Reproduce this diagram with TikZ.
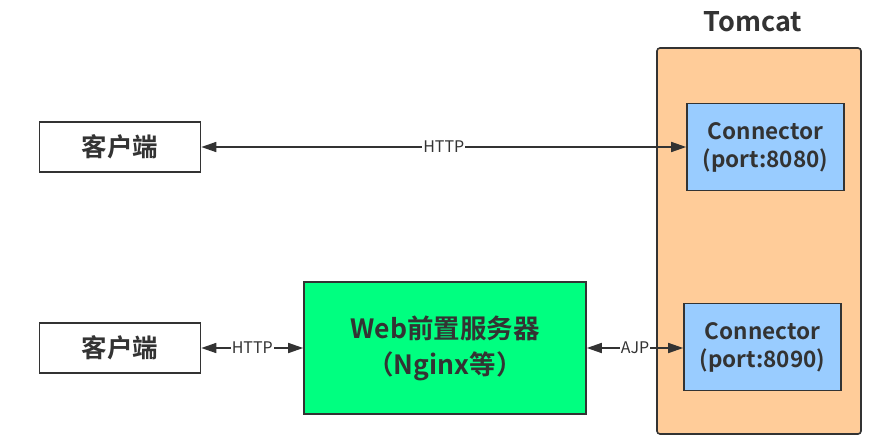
\documentclass[tikz,border=0pt]{standalone}
\usepackage{fontspec}
\setmainfont{Noto Sans CJK SC}
\newfontfamily\cjkb{Noto Sans CJK SC Bold}
\usetikzlibrary{arrows.meta}
\definecolor{lc}{HTML}{333333}
\definecolor{tomcatc}{HTML}{FFCC99}
\definecolor{connc}{HTML}{99CCFF}
\definecolor{webc}{HTML}{00FF80}
\tikzset{
  box/.style={draw=lc, line width=1.6pt, inner sep=0pt, align=center, text=lc, font=\cjkb\fontsize{22.5}{28}\selectfont},
  conn/.style={draw=lc, line width=1.6pt, {Triangle[length=15pt,width=10pt]}-{Triangle[length=15pt,width=10pt]}},
  lbl/.style={fill=white, text=lc, inner sep=1pt, font=\fontsize{16}{18}\selectfont}
}
\begin{document}
\begin{tikzpicture}[x=1pt,y=-1pt]
\useasboundingbox (0,0) rectangle (880,444);
\node[box, rounded corners=3pt, fill=tomcatc, minimum width=204pt, minimum height=386pt] (tomcat) at (759,241) {};
\node[text=lc, font=\cjkb\fontsize{27}{30}\selectfont] (tlabel) at (753,22) {Tomcat};
\node[box, fill=connc, minimum width=157pt, minimum height=87pt] (c1) at (765.5,147) {Connector\\(port:8080)};
\node[box, fill=connc, minimum width=157pt, minimum height=87pt] (c2) at (762.5,347) {Connector\\(port:8090)};
\node[box, fill=white, minimum width=161pt, minimum height=50pt, font=\cjkb\fontsize{25.5}{30}\selectfont] (cl1) at (120,147) {客户端};
\node[box, fill=white, minimum width=161pt, minimum height=50pt, font=\cjkb\fontsize{25.5}{30}\selectfont] (cl2) at (120,348) {客户端};
\node[box, fill=webc, minimum width=282pt, minimum height=132pt, font=\cjkb\fontsize{26.5}{36}\selectfont] (web) at (445,348) {Web前置服务器\\（Nginx等）};
\draw[conn] (cl1.east) -- node[lbl] {HTTP} (c1.west |- cl1.east);
\draw[conn] (cl2.east) -- node[lbl] {HTTP} (web.west |- cl2.east);
\draw[conn] (web.east) -- node[lbl] {AJP} (c2.west |- web.east);
\end{tikzpicture}
\end{document}
